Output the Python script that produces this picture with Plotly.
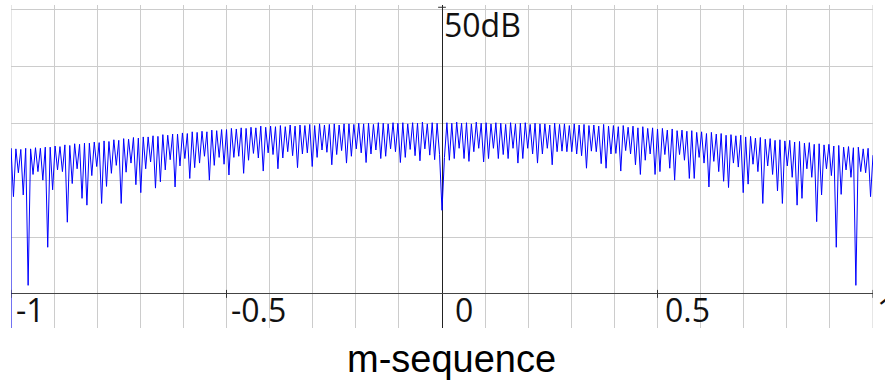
import plotly.graph_objects as go

# ---- data (dB) ----
N_LOBES = 88  # visible ripple lobes per half (0..1)

dc_db = 14.7        # value at x = 0
nyquist_db = -8.0   # value at x = -1 (falls below the axis)

# right half, k = 1..88 ; troughs at (k-0.5)/88, peaks at k/88
right_troughs_db = [
    24.0, 23.5, 23.8, 25.6, 23.8, 23.3, 25.0, 25.6, 23.2, 23.8,
    25.6, 23.8, 24.5, 23.8, 25.6, 23.0, 23.8, 25.6, 24.6, 23.0,
    24.6, 25.6, 22.7, 25.0, 25.1, 25.0, 25.0, 24.6, 24.3, 22.1,
    25.1, 25.0, 22.9, 22.1, 24.6, 24.7, 21.6, 25.2, 24.6, 22.7,
    21.0, 23.5, 24.6, 21.0, 21.5, 24.5, 22.1, 20.0, 24.5, 23.5,
    20.3, 20.3, 24.0, 23.0, 18.8, 23.3, 21.5, 19.8, 18.7, 23.0,
    22.3, 17.8, 19.3, 22.8, 21.5, 15.9, 22.5, 21.0, 18.1, 15.9,
    22.5, 20.5, 15.6, 16.8, 22.0, 20.5, 12.7, 17.4, 22.0, 20.8,
    8.2, 17.5, 21.8, 20.5, 1.5, 21.5, 21.3, 17.1,
]
right_peaks_db = [
    30.1, 30.0, 30.2, 30.0, 30.1, 29.9, 30.2, 30.0, 30.1, 29.9,
    30.1, 30.0, 29.8, 30.1, 29.9, 30.0, 30.1, 29.8, 30.0, 29.9,
    29.9, 29.7, 30.0, 29.8, 29.9, 29.6, 29.9, 29.7, 29.8, 29.6,
    29.7, 29.5, 29.8, 29.5, 29.6, 29.4, 29.6, 29.3, 29.5, 29.2,
    29.4, 29.1, 29.2, 29.0, 29.1, 28.8, 29.0, 28.7, 28.8, 28.6,
    28.7, 28.4, 28.5, 28.2, 28.4, 28.1, 28.2, 27.9, 28.0, 27.8,
    27.9, 27.6, 27.7, 27.4, 27.5, 27.2, 27.3, 27.0, 27.1, 26.9,
    27.0, 26.7, 26.8, 26.5, 26.6, 26.3, 26.4, 26.2, 26.3, 26.0,
    26.1, 25.8, 25.9, 25.7, 25.8, 25.5, 25.6, 24.4,
]

# left half, k = 1..88 ; troughs at -(k-0.5)/88, peaks at -k/88
left_troughs_db = [
    24.5, 23.6, 24.4, 25.5, 23.4, 24.3, 25.4, 24.0, 23.1, 25.0,
    25.5, 24.2, 23.8, 25.3, 24.6, 23.1, 24.8, 25.5, 24.2, 23.0,
    25.2, 24.5, 22.7, 24.9, 25.3, 24.0, 22.4, 24.8, 24.6, 22.2,
    24.3, 25.0, 23.9, 22.0, 24.5, 24.8, 21.6, 23.9, 24.7, 23.5,
    21.2, 24.2, 24.0, 20.9, 22.8, 24.0, 22.6, 20.0, 24.2, 23.0,
    22.2, 20.3, 23.8, 22.5, 18.8, 23.6, 21.8, 19.7, 18.6, 23.2,
    22.0, 17.8, 19.2, 23.0, 21.4, 15.9, 22.6, 21.2, 18.9, 15.9,
    22.4, 20.8, 15.6, 16.8, 22.0, 19.4, 12.6, 21.5, 21.8, 18.3,
    8.2, 20.0, 21.5, 21.0, 1.5, 17.4, 21.3, 17.1,
]
left_peaks_db = [
    30.0, 30.1, 29.9, 30.2, 30.0, 30.1, 29.9, 30.1, 30.0, 30.1,
    29.9, 30.0, 30.1, 29.8, 30.0, 29.9, 30.0, 29.8, 29.9, 29.9,
    29.7, 29.9, 29.8, 29.7, 29.9, 29.6, 29.8, 29.6, 29.7, 29.5,
    29.7, 29.4, 29.6, 29.4, 29.5, 29.3, 29.5, 29.2, 29.3, 29.1,
    29.2, 29.0, 29.1, 28.9, 28.9, 28.7, 28.8, 28.5, 28.6, 28.4,
    28.5, 28.2, 28.3, 28.1, 28.1, 27.9, 28.0, 27.7, 27.8, 27.6,
    27.6, 27.4, 27.5, 27.2, 27.3, 27.0, 27.1, 26.8, 26.9, 26.6,
    26.7, 26.5, 26.5, 26.3, 26.4, 26.1, 26.2, 25.9, 26.0, 25.8,
    25.8, 25.6, 25.7, 25.5, 25.6, 25.4, 25.5, 25.6,
]

x_tick_labels = ["-1", "-0.5", "0", "0.5", "1"]
x_tick_values = [-1.0, -0.5, 0.0, 0.5, 1.0]
y_top_label = "50dB"
x_title = "m-sequence"

# ---- build polyline from the read values ----
xs, ys = [], []
xs.append(-1.0); ys.append(nyquist_db)
for k in range(N_LOBES, 0, -1):
    xs.append(-k / N_LOBES); ys.append(left_peaks_db[k - 1])
    xs.append(-(k - 0.5) / N_LOBES); ys.append(left_troughs_db[k - 1])
xs.append(0.0); ys.append(dc_db)
for k in range(1, N_LOBES + 1):
    xs.append((k - 0.5) / N_LOBES); ys.append(right_troughs_db[k - 1])
    xs.append(k / N_LOBES); ys.append(right_peaks_db[k - 1])

fig = go.Figure()
fig.add_trace(go.Scatter(x=xs, y=ys, mode="lines",
                         line=dict(color="#0000ff", width=1),
                         hoverinfo="skip", showlegend=False))

GRID = "#cccccc"
fig.update_layout(
    width=885, height=383,
    margin=dict(l=11, r=12, t=5, b=55),
    paper_bgcolor="white", plot_bgcolor="white",
    xaxis=dict(range=[-1, 1], tick0=0, dtick=0.1, showgrid=True, gridcolor=GRID,
               gridwidth=1, showticklabels=False, ticks="",
               zeroline=True, zerolinecolor="#222222", zerolinewidth=1.3,
               showline=False, fixedrange=True),
    yaxis=dict(range=[-6.0, 50.8], tickvals=[0, 10, 20, 30, 40, 50], showgrid=True,
               gridcolor=GRID, gridwidth=1, showticklabels=False, ticks="",
               zeroline=True, zerolinecolor="#444444", zerolinewidth=1,
               showline=False, fixedrange=True),
)

shapes = []
for xv in (-1.0, 1.0):
    shapes.append(dict(type="line", xref="x", yref="paper", x0=xv, x1=xv, y0=0, y1=1,
                       line=dict(color=GRID, width=1), layer="below"))
for xv in (-1.0, -0.5, 0.5, 1.0):
    shapes.append(dict(type="line", xref="x", yref="y", x0=xv, x1=xv, y0=-0.7, y1=0.7,
                       line=dict(color="#333333", width=1)))
shapes.append(dict(type="line", xref="x", yref="y", x0=-0.009, x1=0.009, y0=50.4, y1=50.4,
                   line=dict(color="#333333", width=1)))
fig.update_layout(shapes=shapes)

LABEL_FONT = dict(family="Open Sans, Segoe UI, sans-serif", size=32, color="#111111")
shifts = [3, 2, 11, 5, 2]
for xv, txt, sh in zip(x_tick_values, x_tick_labels, shifts):
    fig.add_annotation(x=xv, y=0, xref="x", yref="y", text=txt, showarrow=False,
                       xanchor="left", yanchor="top", xshift=sh, yshift=8,
                       font=LABEL_FONT)
fig.add_annotation(x=0, y=50.8, xref="x", yref="y", text=y_top_label, showarrow=False,
                   xanchor="left", yanchor="top", xshift=0, yshift=4, font=LABEL_FONT)
fig.add_annotation(x=0.022, y=-6.0, xref="x", yref="y", text=x_title, showarrow=False,
                   xanchor="center", yanchor="top", yshift=-8,
                   font=dict(family="Liberation Sans, Arial, sans-serif",
                             size=38, color="#000000"))

fig.write_html("out.html", post_script="document.body.style.margin='0';",
               config={"displayModeBar": False})
